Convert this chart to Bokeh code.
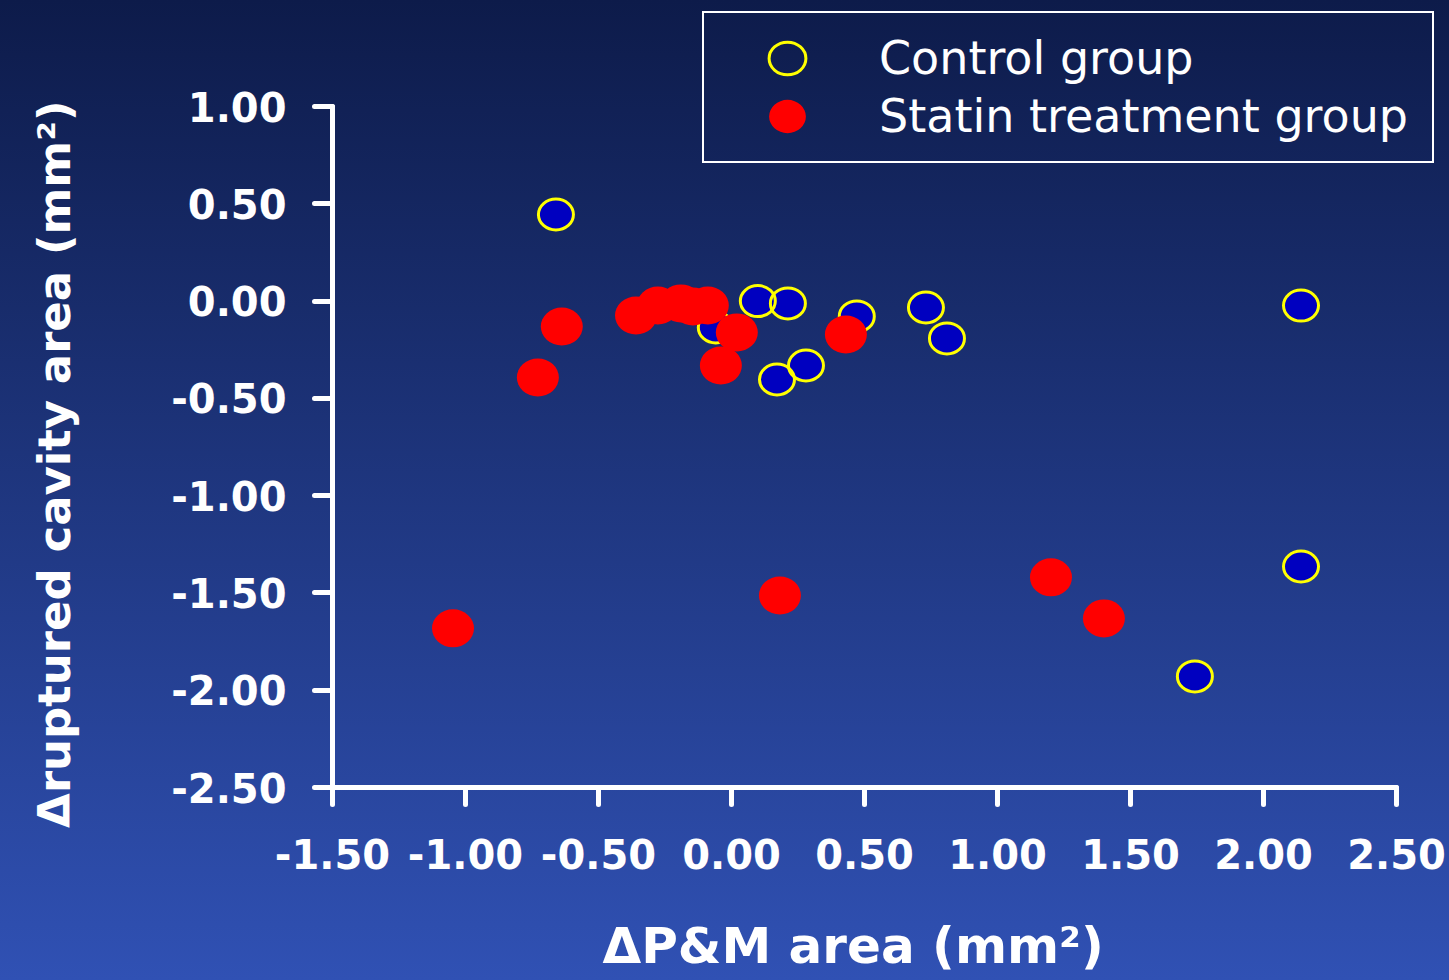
from bokeh.plotting import figure
from bokeh.models import (Range1d, FixedTicker, NumeralTickFormatter, Legend, LegendItem,
                          ColumnDataSource, Title)
from bokeh.embed import file_html
from bokeh.resources import INLINE

# Control group (blue with yellow outline)
control_x = [-0.660, -0.059, 0.099, 0.212, 0.471, 0.731, 0.810, 0.280, 0.171, 2.141, 2.141, 1.742]
control_y = [0.445, -0.136, 0.000, -0.012, -0.079, -0.033, -0.192, -0.331, -0.403, -0.023, -1.364, -1.929]

# Statin treatment group (red)
statin_x = [-1.047, -0.728, -0.638, -0.359, -0.277, -0.190, -0.145, -0.089, 0.020, -0.040, 0.430, 0.182, 1.201, 1.400]
statin_y = [-1.682, -0.393, -0.131, -0.074, -0.023, -0.012, -0.028, -0.023, -0.161, -0.331, -0.172, -1.513, -1.420, -1.631]

x_ticks = [-1.5, -1.0, -0.5, 0.0, 0.5, 1.0, 1.5, 2.0, 2.5]
y_ticks = [1.0, 0.5, 0.0, -0.5, -1.0, -1.5, -2.0, -2.5]

x_title = "\u0394P&M area (mm\u00b2)"
y_title = "\u0394ruptured cavity area (mm\u00b2)"
legend_labels = ["Control group", "Statin treatment group"]

W, H = 1449, 980
# frame extends beyond the axis bounds so the legend (top right) is not clipped
x_end = 2.5 + 44 / 266.0
y_end = 1.0 + 102 / 194.57
p = figure(width=W, height=H, output_backend="svg", toolbar_location=None,
           x_range=Range1d(x_ticks[0], x_end), y_range=Range1d(y_ticks[-1], y_end),
           min_border_left=332, min_border_right=9, min_border_top=4, min_border_bottom=193)
p.styles = {"background": "linear-gradient(to bottom, #0d1b4a 0%, #3051b4 100%)"}
p.border_fill_alpha = 0
p.background_fill_alpha = 0
p.outline_line_color = None
p.grid.visible = False

for ax in (p.xaxis[0], p.yaxis[0]):
    ax.axis_line_color = "white"
    ax.axis_line_width = 5
    ax.axis_line_cap = "round"
    ax.major_tick_line_color = "white"
    ax.major_tick_line_width = 5
    ax.major_tick_line_cap = "round"
    ax.major_tick_in = 0
    ax.minor_tick_line_color = None
    ax.major_label_text_color = "white"
    ax.major_label_text_font = "DejaVu Sans"
    ax.major_label_text_font_style = "bold"
    ax.major_label_text_font_size = "40px"
    ax.formatter = NumeralTickFormatter(format="0.00")

p.xaxis.ticker = FixedTicker(ticks=x_ticks)
p.yaxis.ticker = FixedTicker(ticks=y_ticks)
p.xaxis.bounds = (x_ticks[0], x_ticks[-1])
p.yaxis.bounds = (y_ticks[-1], y_ticks[0])
p.xaxis.major_tick_out = 17
p.yaxis.major_tick_out = 18
p.xaxis.major_label_standoff = 34
p.yaxis.major_label_standoff = 28

# axis titles (positioned along the axis extent, not the wider frame)
xt = Title(text=x_title, align="left", offset=270, standoff=0,
           text_font="DejaVu Sans", text_font_style="bold", text_font_size="50px",
           text_color="white")
yt = Title(text=y_title, align="right", offset=96, standoff=10,
           text_font="DejaVu Sans", text_font_style="bold", text_font_size="45px",
           text_color="white")
try:
    xt.padding = dict(left=0, right=0, top=43, bottom=0)
    yt.padding = dict(left=0, right=0, top=0, bottom=83)
except Exception:
    xt.padding = (43, 0, 0, 0)
    yt.padding = (0, 0, 83, 0)
p.add_layout(xt, "below")
p.add_layout(yt, "left")

csrc = ColumnDataSource(dict(x=control_x, y=control_y))
ssrc = ColumnDataSource(dict(x=statin_x, y=statin_y))

p.ellipse(x="x", y="y", width=35, height=31, width_units="screen", height_units="screen",
          source=csrc, fill_color="#0000c0", line_color=None)
c_ring = p.ellipse(x="x", y="y", width=35, height=31, width_units="screen", height_units="screen",
                   source=csrc, fill_alpha=0, line_color="#ffff00", line_width=3)
s_r = p.ellipse(x="x", y="y", width=42, height=38, width_units="screen", height_units="screen",
                source=ssrc, fill_color="#ff0000", line_color=None)

legend = Legend(items=[LegendItem(label=legend_labels[0], renderers=[c_ring]),
                       LegendItem(label=legend_labels[1], renderers=[s_r])],
                location=(370, 624), orientation="vertical")
legend.label_text_font = "DejaVu Sans"
legend.label_text_font_size = "46px"
legend.label_text_color = "white"
legend.border_line_color = "white"
legend.border_line_alpha = 1.0
legend.border_line_width = 2
legend.background_fill_alpha = 0
legend.padding = 18
legend.spacing = 4
legend.glyph_height = 46
legend.glyph_width = 130
legend.label_height = 46
legend.label_width = 535
legend.label_standoff = 27
legend.margin = 0
p.add_layout(legend, "center")

open("out.html", "w").write(file_html(p, INLINE))
